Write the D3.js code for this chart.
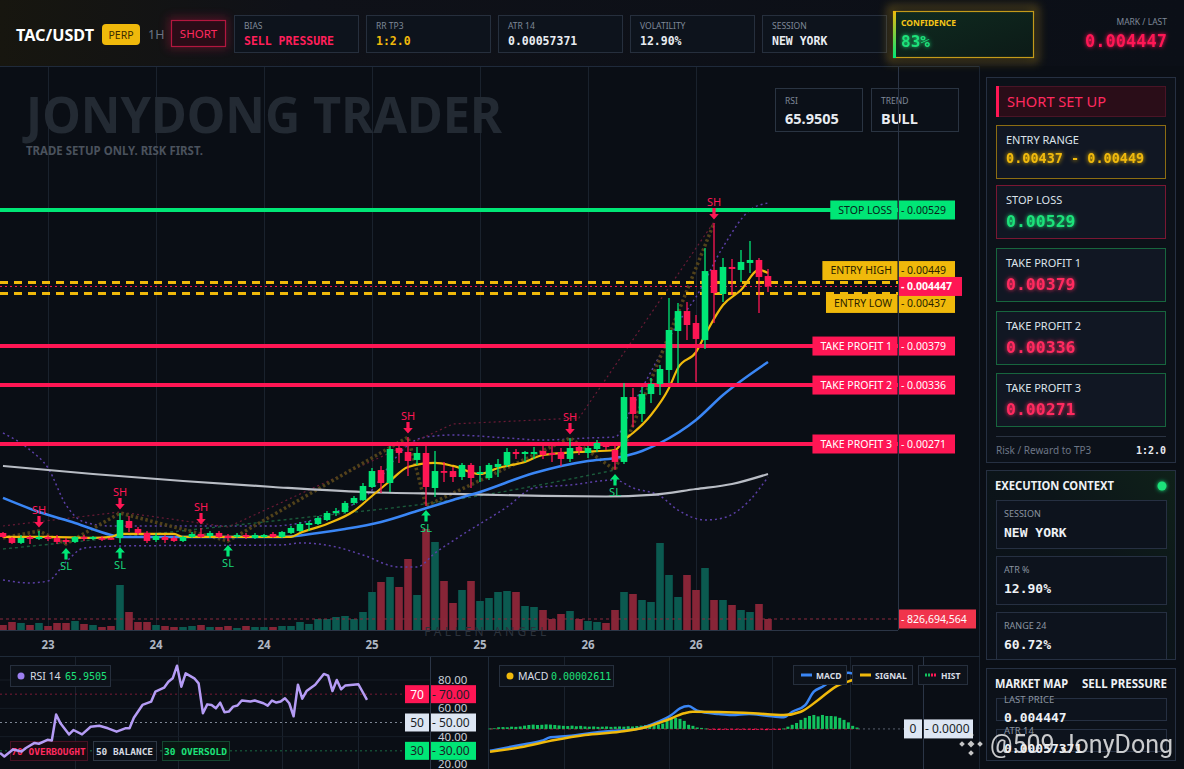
<!DOCTYPE html>
<html>
<head>
<meta charset="utf-8">
<title>TAC/USDT</title>
<script src="https://cdn.jsdelivr.net/npm/d3@7/dist/d3.min.js"></script>
<style>
html,body{margin:0;padding:0;background:#0a0e15;width:1184px;height:769px;overflow:hidden}
svg{display:block}
</style>
</head>
<body>
<svg id="chart" width="1184" height="769" viewBox="0 0 1184 769"></svg>
<script>
// ================= DATA =================
const open = [0.001729,0.001674,0.001619,0.001685,0.001663,0.001685,0.001674,0.001652,0.001630,0.001685,
0.001674,0.001674,0.001674,0.001674,0.001861,0.001773,0.001729,0.001652,0.001685,0.001674,
0.001641,0.001685,0.001718,0.001696,0.001729,0.001696,0.001696,0.001707,0.001674,0.001685,
0.001718,0.001685,0.001729,0.001751,0.001817,0.001828,0.001872,0.001949,0.001960,0.002060,
0.002093,0.002236,0.002423,0.002280,0.002666,0.002622,0.002534,0.002611,0.002225,0.002412,
0.002412,0.002346,0.002479,0.002379,0.002335,0.002457,0.002479,0.002622,0.002600,0.002600,
0.002633,0.002611,0.002622,0.002545,0.002677,0.002611,0.002655,0.002699,0.002644,0.002512,
0.003228,0.003041,0.003261,0.003372,0.003526,0.003956,0.004176,0.004044,0.003857,0.004629,
0.004364,0.004662,0.004629,0.004706,0.004739,0.004562];
const high = [0.001740,0.001685,0.001707,0.001707,0.001751,0.001707,0.001707,0.001674,0.001696,0.001707,
0.001696,0.001696,0.001685,0.001949,0.001916,0.001795,0.001751,0.001729,0.001707,0.001696,
0.001696,0.001740,0.001784,0.001751,0.001751,0.001718,0.001729,0.001729,0.001729,0.001718,
0.001740,0.001751,0.001806,0.001850,0.001861,0.001916,0.001971,0.002005,0.002082,0.002137,
0.002280,0.002446,0.002468,0.002688,0.002688,0.002787,0.002677,0.002688,0.002633,0.002512,
0.002457,0.002501,0.002501,0.002468,0.002501,0.002545,0.002666,0.002655,0.002633,0.002677,
0.002699,0.002688,0.002666,0.002776,0.002721,0.002688,0.002754,0.002732,0.002699,0.003383,
0.003328,0.003339,0.003438,0.003581,0.004320,0.004265,0.004276,0.004132,0.004871,0.005147,
0.004761,0.004750,0.004849,0.004948,0.004761,0.004640];
const low = [0.001674,0.001608,0.001608,0.001608,0.001652,0.001641,0.001608,0.001608,0.001619,0.001641,
0.001652,0.001641,0.001652,0.001619,0.001740,0.001707,0.001619,0.001630,0.001619,0.001630,
0.001630,0.001674,0.001674,0.001674,0.001674,0.001641,0.001674,0.001663,0.001663,0.001674,
0.001674,0.001674,0.001718,0.001740,0.001751,0.001817,0.001861,0.001916,0.001949,0.002038,
0.002082,0.002225,0.002170,0.002181,0.002501,0.002357,0.002479,0.002027,0.002126,0.002291,
0.002291,0.002313,0.002225,0.002291,0.002313,0.002346,0.002457,0.002545,0.002512,0.002545,
0.002545,0.002512,0.002468,0.002512,0.002589,0.002556,0.002622,0.002644,0.002423,0.002490,
0.002898,0.002953,0.003162,0.003250,0.003383,0.003383,0.003857,0.003394,0.003758,0.004044,
0.004276,0.004353,0.004496,0.004595,0.004154,0.004386];
const close = [0.001685,0.001619,0.001674,0.001663,0.001685,0.001663,0.001630,0.001630,0.001685,0.001669,
0.001685,0.001658,0.001663,0.001872,0.001784,0.001729,0.001641,0.001696,0.001652,0.001641,
0.001685,0.001718,0.001685,0.001729,0.001685,0.001674,0.001707,0.001685,0.001707,0.001707,
0.001685,0.001740,0.001784,0.001828,0.001839,0.001894,0.001949,0.001971,0.002060,0.002115,
0.002247,0.002412,0.002280,0.002655,0.002611,0.002523,0.002611,0.002236,0.002412,0.002401,
0.002346,0.002479,0.002335,0.002401,0.002479,0.002490,0.002622,0.002600,0.002622,0.002622,
0.002589,0.002589,0.002545,0.002666,0.002633,0.002666,0.002721,0.002677,0.002512,0.003228,
0.003041,0.003261,0.003372,0.003537,0.003967,0.004176,0.004022,0.003868,0.004617,0.004375,
0.004662,0.004640,0.004717,0.004739,0.004551,0.004447];
const volume = [376e6,601e6,526e6,376e6,526e6,301e6,526e6,526e6,676e6,451e6,
376e6,225e6,301e6,3382e6,1353e6,601e6,601e6,376e6,301e6,225e6,
225e6,301e6,376e6,225e6,225e6,301e6,150e6,301e6,225e6,225e6,
225e6,301e6,301e6,601e6,451e6,827e6,827e6,977e6,1052e6,827e6,
1353e6,2856e6,3607e6,3983e6,3231e6,5336e6,2630e6,7590e6,6613e6,3682e6,
2029e6,3006e6,3682e6,2179e6,2405e6,2856e6,2931e6,2856e6,1804e6,1728e6,
1503e6,827e6,1202e6,1428e6,827e6,676e6,601e6,526e6,1503e6,2856e6,
2705e6,2255e6,2104e6,6538e6,4133e6,2480e6,4133e6,3006e6,4659e6,2255e6,
2255e6,1879e6,1503e6,1353e6,1954e6,826694564];

const timeTickIndex = [5,17,29,41,53,65,77];
const timeTickLabels = ["23","24","24","25","25","26","26"];

// overlay lines (candle index, price)
const emaFastIdx = [0,5,10,12,13,19,20,32,33,36,39,41,43,45,48,50,53,55,58,60,64,68,69,70,72,74,75,77,78,80,82,84,85];
const emaFast = [0.001685,0.001685,0.001674,0.001685,0.001718,0.001718,0.001685,0.001685,0.001729,0.001828,0.001971,0.002137,0.002302,0.002457,0.002501,0.002468,0.002379,0.002446,0.002512,0.002589,0.002622,0.002644,0.002754,0.002831,0.003030,0.003328,0.003548,0.003724,0.003912,0.004243,0.004408,0.004629,0.004595];
const emaMidIdx = [0,4,8,12,13,31,35,38,42,46,50,53,59,65,68,71,73,77,80,85];
const emaMid = [0.002115,0.001960,0.001839,0.001707,0.001685,0.001685,0.001729,0.001773,0.001850,0.001971,0.002093,0.002181,0.002390,0.002523,0.002556,0.002633,0.002721,0.002975,0.003250,0.003614];
const emaSlowIdx = [0,10,20,30,40,50,60,67,72,77,81,85];
const emaSlow = [0.002468,0.002379,0.002302,0.002236,0.002181,0.002159,0.002137,0.002131,0.002148,0.002214,0.002269,0.002379];
const bandUpIdx = [0,3,5,7,9,12,30,33,37,41,43,45,47,50,56,60,65,68,70,73,75,77,80,83,85];
const bandUp = [0.002831,0.002644,0.002446,0.002038,0.001850,0.001806,0.001806,0.001839,0.001960,0.002203,0.002479,0.002699,0.002787,0.002809,0.002776,0.002754,0.002776,0.002787,0.003140,0.003691,0.004044,0.004331,0.004882,0.005290,0.005367];
const bandLowIdx = [0,3,5,7,9,13,31,33,37,40,44,46,48,51,56,59,63,68,70,73,75,78,80,83,85];
const bandLow = [0.001211,0.001178,0.001200,0.001409,0.001563,0.001586,0.001597,0.001619,0.001575,0.001486,0.001354,0.001354,0.001508,0.001707,0.002016,0.002225,0.002258,0.002313,0.002225,0.002137,0.001982,0.001872,0.001894,0.002093,0.002346];
const supportIdx = [0,33,50,68];
const support = [0.001553,0.001894,0.002093,0.002423];
const resistIdx = [0,13,25,50,64,79];
const resist = [0.001806,0.001960,0.001795,0.002931,0.002997,0.005158];

const swingHighIdx = [4,13,22,45,63,79];
const swingLowIdx = [7,13,25,47,68];
const zigzagIdx = [0,4,7,13,25,45,47,63,68,79];
const zigzagType = ["L","H","L","H","L","H","L","H","L","H"];

const levelNames = ["STOP LOSS","ENTRY HIGH","ENTRY LOW","TAKE PROFIT 1","TAKE PROFIT 2","TAKE PROFIT 3"];
const levelPrices = [0.00529,0.00449,0.00437,0.00379,0.00336,0.00271];
const levelLabels = ["0.00529","0.00449","0.00437","0.00379","0.00336","0.00271"];
const markPrice = 0.004447;
const lastVolume = 826694564;

// RSI (candle index, value)
const rsiIdx = [0,1,3,5,6,8,9,11,12,13,14,16,17,19,21,23,25,27,29,30,31,33,35,36,38,39,40,41,42,43,45,46,47,48,49,50,51,52,53,54,55,56,58,59,61,62,63,64,65,66,67,68,69,70,71,73,75,76,77,78,79,80,83,85];
const rsiVal = [28.5,26,31,29.5,32,35.6,35,37.8,37.3,55.7,49.4,41.6,44.7,41.6,47,47.7,45.9,43.5,45.9,45.9,53.4,62.4,64.7,71.8,74.6,78.8,81.2,90.1,75.3,84.7,81.2,77.6,56.5,62.8,62.4,60.0,64,57.2,57.7,61.2,62,65.5,64.8,65.5,63.6,61.9,65.5,64.1,64.8,67.1,63.6,54.4,76.7,66.8,72.2,76.7,84.3,83.1,72.2,80.0,73.4,76.2,77,65.9505];
const rsiTicks = [80,60,40,20];
const rsiLevels = [70,50,30];

// MACD
const macdIdx = [0,7,12,14,18,26,34,39,42,44,46,48,53,56,60,64,68,70,73,75,77,80,83,85];
const macdVal = [-1.061e-5,-7.83e-6,-5.74e-6,-4.09e-6,-3.45e-6,-1.36e-6,0,3.5e-6,6.76e-6,1.0e-5,1.11e-5,8.86e-6,7.25e-6,6.76e-6,7.25e-6,6.42e-6,5.64e-6,8.37e-6,1.163e-5,1.81e-5,2.05e-5,2.46e-5,2.73e-5,2.611e-5];
const signalIdx = [0,7,15,22,30,36,41,45,47,53,61,68,72,76,80,84,85];
const signalVal = [-1.11e-5,-8.95e-6,-5.40e-6,-2.97e-6,-1.36e-6,7.8e-7,4.33e-6,7.59e-6,8.37e-6,8.22e-6,7.59e-6,6.76e-6,8.37e-6,1.406e-5,2.05e-5,2.38e-5,2.46e-5];
const histVal = [0.2e-6,0.3e-6,0.8e-6,0.9e-6,0.8e-6,1.1e-6,1.0e-6,1.2e-6,1.6e-6,1.9e-6,
2.1e-6,1.9e-6,2.0e-6,2.2e-6,2.1e-6,1.9e-6,1.7e-6,1.5e-6,1.4e-6,1.6e-6,
1.3e-6,1.5e-6,1.2e-6,1.1e-6,1.2e-6,1.0e-6,1.1e-6,1.2e-6,1.0e-6,1.1e-6,
1.2e-6,1.1e-6,1.3e-6,1.2e-6,1.4e-6,1.6e-6,1.9e-6,2.1e-6,2.4e-6,2.2e-6,
2.6e-6,4.4e-6,4.9e-6,5.4e-6,4.9e-6,3.9e-6,2.0e-6,1.5e-6,0.7e-6,0.5e-6,
0.2e-6,-0.3e-6,-0.4e-6,-0.5e-6,-0.4e-6,-0.3e-6,-0.2e-6,-0.4e-6,-0.3e-6,-0.2e-6,
-0.3e-6,-0.5e-6,-0.4e-6,-0.3e-6,-0.6e-6,-0.4e-6,-0.3e-6,-0.5e-6,0.2e-6,1.1e-6,
2.0e-6,2.9e-6,4.4e-6,5.4e-6,6.3e-6,6.8e-6,6.1e-6,6.8e-6,6.3e-6,6.3e-6,
6.1e-6,5.4e-6,4.4e-6,3.2e-6,1.5e-6,0.7e-6];

// text content
const headerLabels = ["BIAS","RR TP3","ATR 14","VOLATILITY","SESSION"];
const headerValues = ["SELL PRESSURE","1:2.0","0.00057371","12.90%","NEW YORK"];
const setupLabels = ["ENTRY RANGE","STOP LOSS","TAKE PROFIT 1","TAKE PROFIT 2","TAKE PROFIT 3"];
const setupValues = ["0.00437 - 0.00449","0.00529","0.00379","0.00336","0.00271"];
const contextLabels = ["SESSION","ATR %","RANGE 24"];
const contextValues = ["NEW YORK","12.90%","60.72%"];
const mapLabels = ["LAST PRICE","ATR 14"];
const mapValues = ["0.004447","0.00057371"];

// ================= DRAW =================
(function(){
const SANS = "'Noto Sans','Open Sans',sans-serif";
const MONO = "'DejaVu Sans Mono','Liberation Mono',monospace";
const GREEN = "#00e676", RED = "#ff1654", GOLD = "#f0b90b";
const svg = d3.select("#chart");
const defs = svg.append("defs");

function lg(id, x1,y1,x2,y2, stops){
  const g = defs.append("linearGradient").attr("id",id).attr("x1",x1).attr("y1",y1).attr("x2",x2).attr("y2",y2);
  stops.forEach(s=>g.append("stop").attr("offset",s[0]).attr("stop-color",s[1]).attr("stop-opacity",s[2]==null?1:s[2]));
}
lg("topbarGrad",0,0,1,0,[[0,"#17160f"],[0.25,"#0f1118"],[1,"#0b0f17"]]);
lg("confFill",0,0,1,1,[[0,"#0f2b20"],[1,"#0c1a17"]]);
lg("confBar",0,0,0,1,[[0,GOLD],[1,GREEN]]);
lg("execFill",0,1,1,0,[[0,"#0b1019"],[0.6,"#0c1519"],[1,"#0f2119"]]);
function glow(id,std){
  const f = defs.append("filter").attr("id",id).attr("x","-30%").attr("y","-60%").attr("width","160%").attr("height","220%");
  f.append("feGaussianBlur").attr("in","SourceGraphic").attr("stdDeviation",std).attr("result","b");
  const m = f.append("feMerge"); m.append("feMergeNode").attr("in","b"); m.append("feMergeNode").attr("in","SourceGraphic");
}
glow("glow",2.2);
defs.append("filter").attr("id","soft").attr("x","-20%").attr("y","-40%").attr("width","140%").attr("height","180%")
  .append("feGaussianBlur").attr("stdDeviation",5);

function T(p,x,y,s,o={}){
  const t = p.append("text").attr("x",x).attr("y",y).text(s)
    .attr("font-family",o.ff||SANS).attr("font-size",o.fs||11).attr("fill",o.fill||"#e8ecf1");
  if(o.fw) t.attr("font-weight",o.fw);
  if(o.anchor) t.attr("text-anchor",o.anchor);
  if(o.ls!=null) t.attr("letter-spacing",o.ls);
  if(o.tl) t.attr("textLength",o.tl).attr("lengthAdjust","spacingAndGlyphs");
  if(o.filter) t.attr("filter",o.filter);
  if(o.op!=null) t.attr("opacity",o.op);
  return t;
}
function R(p,x,y,w,h,fill,stroke,o={}){
  const r = p.append("rect").attr("x",x).attr("y",y).attr("width",w).attr("height",h).attr("fill",fill||"none");
  if(stroke) r.attr("stroke",stroke).attr("stroke-width",o.sw||1);
  if(o.rx) r.attr("rx",o.rx);
  if(o.op!=null) r.attr("opacity",o.op);
  return r;
}
function L(p,x1,y1,x2,y2,stroke,w,dash){
  const l = p.append("line").attr("x1",x1).attr("y1",y1).attr("x2",x2).attr("y2",y2).attr("stroke",stroke).attr("stroke-width",w||1);
  if(dash) l.attr("stroke-dasharray",dash);
  return l;
}

R(svg,0,0,1184,769,"#0a0e15");

// ---------- TOP BAR ----------
const bar = svg.append("g");
R(bar,0,0,1184,66,"url(#topbarGrad)");
L(bar,0,66.5,980,66.5,"#1f2a3b",1);
T(bar,16,41,"TAC/USDT",{fs:16,fw:"bold",fill:"#ffffff",tl:78});
R(bar,102,24,38,21,GOLD,null,{rx:4});
T(bar,121,38.5,"PERP",{fs:10.5,fill:"#3b2c00",anchor:"middle"});
T(bar,148,39,"1H",{fs:12.5,fill:"#6b7685"});
R(bar,168,17,60,32,"#b3173f",null,{op:0.35}).attr("filter","url(#soft)");
R(bar,171.5,20.5,54,26,"#2a0c17","#b3173f",{sw:1.2});
T(bar,198.5,38,"SHORT",{fs:11.5,fill:"#ff2a5f",anchor:"middle"});
headerLabels.forEach((lab,k)=>{
  const x0 = 234 + k*132;
  R(bar,x0+0.5,15.5,124,37,"#0d131c","#262f3d");
  T(bar,x0+10,29,lab,{fs:8.5,fill:"#7f8998"});
  T(bar,x0+10,45,headerValues[k],{fs:11.5,fw:"bold",ff:MONO,fill:["#ff1f5a",GOLD,"#e8ecf1","#e8ecf1","#e8ecf1"][k]});
});
R(bar,890,8,146,52,"none","#c49a1a",{sw:4,op:0.55}).attr("filter","url(#soft)");
R(bar,893.5,11.5,140,46,"url(#confFill)","#c49a1a",{sw:1.2});
R(bar,893,11,3,47,"url(#confBar)");
T(bar,901,26,"CONFIDENCE",{fs:8.5,fw:"bold",fill:"#f5c518"});
T(bar,901,47,"83%",{fs:16,fw:"bold",ff:MONO,fill:"#1de27a",filter:"url(#glow)"});
T(bar,1167,25,"MARK / LAST",{fs:8.5,fill:"#7f8998",anchor:"end"});
T(bar,1167,47,"0.004447",{fs:17,fw:"bold",ff:MONO,fill:RED,anchor:"end",filter:"url(#glow)"});

// ---------- MAIN CHART ----------
const PLOT_R = 898, PLOT_T = 67, PLOT_B = 630;
const x = d3.scaleLinear().domain([0,85]).range([3,768]);
const y = d3.scaleLinear().domain([0.00271,0.00529]).range([444,210]);
const vy = d3.scaleLinear().domain([0,7.59e9]).range([PLOT_B,529]);

defs.append("clipPath").attr("id","plotClip").append("rect").attr("x",0).attr("y",PLOT_T).attr("width",PLOT_R).attr("height",PLOT_B-PLOT_T);
const main = svg.append("g");
const plot = main.append("g").attr("clip-path","url(#plotClip)");

timeTickIndex.forEach(i=>L(plot,Math.round(x(i))+0.5,PLOT_T,Math.round(x(i))+0.5,PLOT_B,"#1a222d",1));

T(plot,26,132.5,"JONYDONG TRADER",{fs:50,fw:"bold",fill:"#232a33",tl:476});
T(plot,26,155,"TRADE SETUP ONLY. RISK FIRST.",{fs:11.5,fw:"bold",fill:"#4a525d",tl:177});

const idxAll = d3.range(open.length);
const isUp = i => close[i] >= open[i];
plot.selectAll("rect.vol").data(idxAll).join("rect").attr("class","vol")
  .attr("x",i=>x(i)-3.8).attr("width",7.6)
  .attr("y",i=>vy(volume[i])).attr("height",i=>PLOT_B-vy(volume[i]))
  .attr("fill",i=>isUp(i)?"#0b5a50":"#872537");
L(plot,0,vy(lastVolume),PLOT_R,vy(lastVolume),"#8a2a3e",1,"3,3");

function path(p, idx, vals, stroke, w, dash, curve, op){
  const gen = d3.line().x((d,k)=>x(idx[k])).y(d=>y(d)).curve(curve||d3.curveMonotoneX);
  const pa = p.append("path").attr("d",gen(vals)).attr("fill","none").attr("stroke",stroke).attr("stroke-width",w)
    .attr("stroke-linejoin","round");
  if(dash) pa.attr("stroke-dasharray",dash);
  if(op!=null) pa.attr("opacity",op);
  return pa;
}
path(plot,bandUpIdx,bandUp,"#5b3fa6",1.5,"2,3");
path(plot,bandLowIdx,bandLow,"#5b3fa6",1.5,"2,3");
path(plot,supportIdx,support,"#1b5a3b",1.4,"3,3");
path(plot,resistIdx,resist,"#6a1b36",1.2,"2,3",d3.curveLinear);
const zzVals = zigzagIdx.map((i,k)=>zigzagType[k]==="H"?high[i]:low[i]);
path(plot,zigzagIdx,zzVals,"#54451a",3.5,"2.5,2.5",d3.curveLinear,0.95);
path(plot,emaSlowIdx,emaSlow,"#b9bdc5",2.2);
path(plot,emaMidIdx,emaMid,"#3a86f5",2.5);
path(plot,emaFastIdx,emaFast,GOLD,2.2);

[0,3,4,5].forEach(k=>L(plot,0,y(levelPrices[k]),PLOT_R,y(levelPrices[k]),k===0?GREEN:RED,4));
[1,2].forEach(k=>L(plot,0,y(levelPrices[k]),PLOT_R,y(levelPrices[k]),GOLD,3,"8,6"));
L(plot,0,y(markPrice),PLOT_R,y(markPrice),RED,1,"2,3");

plot.selectAll("line.wick").data(idxAll).join("line").attr("class","wick")
  .attr("x1",i=>x(i)).attr("x2",i=>x(i)).attr("y1",i=>y(high[i])).attr("y2",i=>y(low[i]))
  .attr("stroke",i=>isUp(i)?GREEN:RED).attr("stroke-width",1.3);
plot.selectAll("rect.body").data(idxAll).join("rect").attr("class","body")
  .attr("x",i=>x(i)-3.3).attr("width",6.6)
  .attr("y",i=>Math.min(y(open[i]),y(close[i])))
  .attr("height",i=>Math.max(1.8,Math.abs(y(open[i])-y(close[i]))))
  .attr("fill",i=>isUp(i)?GREEN:RED);

swingHighIdx.forEach(i=>{
  const cx = x(i), hy = y(high[i]);
  plot.append("path").attr("d",`M${cx-1.6},${hy-15}h3.2v6h3.2l-4.8,5.5l-4.8,-5.5h3.2z`).attr("fill",RED);
  T(plot,cx,hy-17,"SH",{fs:11,fill:RED,anchor:"middle"});
});
swingLowIdx.forEach(i=>{
  const cx = x(i), ly = y(low[i]);
  plot.append("path").attr("d",`M${cx},${ly+4}l4.8,5.5h-3.2v6h-3.2v-6h-3.2z`).attr("fill",GREEN);
  T(plot,cx,ly+26,"SL",{fs:11,fill:"#19d77a",anchor:"middle"});
});

[["RSI","65.9505",775],["TREND","BULL",871]].forEach(b=>{
  R(main,b[2]+0.5,88.5,87,43,"#0b1018","#2a3442");
  T(main,b[2]+10,104,b[0],{fs:8.5,fill:"#7f8998"});
  T(main,b[2]+10,124,b[1],{fs:14.5,fw:"bold",fill:"#e8ecf1"});
});

T(main,487,636,"FALLEN ANGEL",{fs:12,fill:"#2c323b",anchor:"middle",ls:3.5});
L(main,PLOT_R+0.5,PLOT_T,PLOT_R+0.5,PLOT_B,"#2b3546",1);
L(main,0,PLOT_B+0.5,PLOT_R,PLOT_B+0.5,"#2b3546",1);
timeTickIndex.forEach((i,k)=>T(main,x(i),649,timeTickLabels[k],{fs:11.5,fw:"bold",fill:"#aeb6c2",anchor:"middle"}));

function tag(yc,leftText,rightText,fill,textFill,rightW,bold){
  const g = main.append("g");
  const h = 19;
  if(leftText){
    const r = R(g,0,yc-h/2,0,h,fill);
    const t = T(g,892,yc+3.8,leftText,{fs:10.5,fill:textFill,anchor:"end"});
    const w = t.node().getComputedTextLength();
    r.attr("x",892-w-8).attr("width",w+8+5.5);
  }
  R(g,PLOT_R+1,yc-h/2,rightW,h,fill);
  T(g,PLOT_R+3,yc+3.8,"- "+rightText,{fs:10.5,fill:textFill,fw:bold?"bold":null});
}
const tagOffset = [0,-12,10,0,0,0];
levelNames.forEach((n,k)=>{
  const col = k===0?GREEN:(k<3?GOLD:RED);
  const tf = k===0?"#08231a":(k<3?"#2a1f00":"#ffffff");
  tag(y(levelPrices[k])+tagOffset[k],n,levelLabels[k],col,tf,56);
});
tag(y(markPrice),null,"0.004447",RED,"#ffffff",63,true);
tag(vy(lastVolume),null,d3.format(",")(lastVolume),"#f0344c","#ffffff",77);

// ---------- RIGHT PANEL ----------
const rp = svg.append("g");
L(rp,979.5,66,979.5,769,"#1a2330",1);
R(rp,986.5,77.5,189,385,"#0c1119","#263042");
R(rp,996.5,86.5,169,30,"#2a0d18","#4a1426");
R(rp,996,86,3,31,RED);
T(rp,1007,107,"SHORT SET UP",{fs:15,fill:"#ff2a5f",tl:99});
const setupY = [125,185,248,311,373];
const setupBorder = ["#8c6d12","#7a1733","#17663e","#17663e","#17663e"];
const setupColor = [GOLD,"#1de27a","#ff2a5f","#ff2a5f","#ff2a5f"];
setupLabels.forEach((lab,k)=>{
  const y0 = setupY[k];
  R(rp,996.5,y0+0.5,169,53,"#111723",setupBorder[k]);
  T(rp,1006,y0+19,lab,{fs:11,fill:"#dde3ea"});
  T(rp,1006,y0+(k===0?38:42),setupValues[k],{fs:k===0?13.5:16.5,fw:"bold",ff:MONO,fill:setupColor[k],filter:"url(#glow)"});
});
L(rp,996,436.5,1166,436.5,"#2a3342",1);
T(rp,996,454,"Risk / Reward to TP3",{fs:10,fill:"#6d7686"});
T(rp,1166,454,"1:2.0",{fs:10,fw:"bold",ff:MONO,fill:"#e6e9ee",anchor:"end"});

R(rp,986.5,470.5,189,189,"url(#execFill)","#263042");
T(rp,995,490,"EXECUTION CONTEXT",{fs:12,fw:"bold",fill:"#eef1f5",tl:119});
rp.append("circle").attr("cx",1162).attr("cy",486).attr("r",4.5).attr("fill","#1de27a").attr("filter","url(#glow)");
defs.append("clipPath").attr("id","execClip").append("rect").attr("x",986).attr("y",470).attr("width",190).attr("height",189);
const ex = rp.append("g").attr("clip-path","url(#execClip)");
contextLabels.forEach((lab,k)=>{
  const y0 = 500 + k*56;
  R(ex,996.5,y0+0.5,170,48,"#0d131d","#263042");
  T(ex,1004,y0+17,lab,{fs:9,fill:"#8a93a0"});
  T(ex,1004,y0+37,contextValues[k],{fs:13,fw:"bold",ff:MONO,fill:"#eef1f5"});
});

R(rp,986.5,668.5,189,92,"#0c1119","#263042");
T(rp,995,688,"MARKET MAP",{fs:12,fw:"bold",fill:"#eef1f5",tl:73});
T(rp,1167,688,"SELL PRESSURE",{fs:12,fw:"bold",fill:"#eef1f5",anchor:"end",tl:85});
mapLabels.forEach((lab,k)=>{
  const y0 = 698 + k*31;
  R(rp,996.5,y0+0.5,170,22,"#0d131d","#263042");
  T(rp,1004,y0+5,lab,{fs:9.5,fill:"#8a93a0"});
  T(rp,1004,y0+24,mapValues[k],{fs:13,fw:"bold",ff:MONO,fill:"#eef1f5"});
});

// ---------- RSI PANEL ----------
const bp = svg.append("g");
L(bp,0,656.5,980,656.5,"#1f2a38",1);
L(bp,488.5,657,488.5,769,"#1f2a38",1);
const rx = d3.scaleLinear().domain([0,85]).range([0,367]);
const ry = d3.scaleLinear().domain([20,80]).range([765,680]);
[75,178,282,358].forEach(v=>L(bp,v+0.5,657,v+0.5,769,"#1a222d",1));
[80,60,40].forEach(v=>L(bp,0,ry(v),430,ry(v),"#161d27",1));
L(bp,430.5,657,430.5,769,"#2b3546",1);
rsiTicks.forEach(v=>T(bp,438,Math.min(ry(v)+4,767.5),v.toFixed(2),{fs:11.5,fill:"#c8cdd5"}));
const lvlCol = {70:"#7a1a35",50:"#7d8694",30:"#1a6a45"};
rsiLevels.forEach(v=>L(bp,0,ry(v),405,ry(v),lvlCol[v],1,"2,3"));
const lvlFill = {70:RED,50:"#dde6f3",30:GREEN};
rsiLevels.forEach(v=>{
  R(bp,405,ry(v)-9,24,18,lvlFill[v]);
  R(bp,431,ry(v)-9,45,18,lvlFill[v]);
  T(bp,417,ry(v)+4.5,String(v),{fs:12,fill:v===70?"#ffffff":"#1a1f27",anchor:"middle"});
  T(bp,432,ry(v)+4.5,"- "+v.toFixed(2),{fs:12,fill:"#1a1f27"});
});
R(bp,10.5,665.5,100,21,"#0d121a","#262f3d");
bp.append("circle").attr("cx",21).attr("cy",676).attr("r",3.5).attr("fill","#9c7ff0");
T(bp,30,680,"RSI 14",{fs:10.5,fill:"#d8dde5"});
T(bp,65,680,"65.9505",{fs:10,ff:MONO,fill:"#1de27a"});
[["70 OVERBOUGHT",10,77,"#4d1326","#1a0b12","#ff2a5f"],["50 BALANCE",93,63,"#333c4a","#0d121a","#d5dae2"],["30 OVERSOLD",162,67,"#164d33","#0b1712","#1de27a"]].forEach(b=>{
  R(bp,b[1]+0.5,741.5,b[2],19,b[4],b[3],{op:0.9});
  T(bp,b[1]+b[2]/2,754.5,b[0],{fs:9.5,fw:"bold",ff:MONO,fill:b[5],anchor:"middle"});
});
const rsiLine = d3.line().x((d,k)=>rx(rsiIdx[k])).y(d=>ry(d)).curve(d3.curveLinear);
bp.append("path").attr("d",rsiLine(rsiVal)).attr("fill","none").attr("stroke","#b59cf5").attr("stroke-width",2.5).attr("stroke-linejoin","round");

// ---------- MACD PANEL ----------
const mx = d3.scaleLinear().domain([0,85]).range([490,857]);
const my = d3.scaleLinear().domain([-0.0000195,0.0000350]).range([769,657]);
[564,669,772,850].forEach(v=>L(bp,v+0.5,657,v+0.5,769,"#1a222d",1));
L(bp,923.5,657,923.5,769,"#2b3546",1);
L(bp,490,my(0),858,my(0),"#b0183f",1,"3,3");
L(bp,858,my(0),904,my(0),"#5a6270",1,"2,3");
bp.selectAll("rect.hist").data(idxAll).join("rect").attr("class","hist")
  .attr("x",i=>mx(i)-1.5).attr("width",3)
  .attr("y",i=>Math.min(my(histVal[i]),my(0))).attr("height",i=>Math.max(0.8,Math.abs(my(histVal[i])-my(0))))
  .attr("fill",i=>histVal[i]>=0?"#12c25e":RED);
const macdLine = d3.line().x((d,k)=>mx(macdIdx[k])).y(d=>my(d)).curve(d3.curveMonotoneX);
const sigLine = d3.line().x((d,k)=>mx(signalIdx[k])).y(d=>my(d)).curve(d3.curveMonotoneX);
bp.append("path").attr("d",macdLine(macdVal)).attr("fill","none").attr("stroke","#3a86f5").attr("stroke-width",2.5);
bp.append("path").attr("d",sigLine(signalVal)).attr("fill","none").attr("stroke",GOLD).attr("stroke-width",2.5);
R(bp,499.5,665.5,114,21,"#0d121a","#262f3d");
bp.append("circle").attr("cx",510).attr("cy",676).attr("r",3.5).attr("fill",GOLD);
T(bp,518,680,"MACD",{fs:10.5,fill:"#d8dde5"});
T(bp,551,680,"0.00002611",{fs:10,ff:MONO,fill:"#1de27a"});
[["MACD",793,53,"#3a86f5"],["SIGNAL",852,60,GOLD],["HIST",918,49,null]].forEach(b=>{
  R(bp,b[1]+0.5,665.5,b[2],19,"#0d121a","#262f3d");
  if(b[3]) L(bp,b[1]+8,675,b[1]+19,675,b[3],3);
  else { L(bp,b[1]+7,675,b[1]+13,675,"#12c25e",3,"2,1"); L(bp,b[1]+13,675,b[1]+19,675,RED,3,"2,1"); }
  T(bp,b[1]+23,678.5,b[0],{fs:8.5,fw:"bold",fill:"#d8dde5"});
});
R(bp,904,my(0)-9.5,18,19,"#dde6f3");
R(bp,924,my(0)-9.5,49,19,"#dde6f3");
T(bp,913,my(0)+4.5,"0",{fs:12,fill:"#1a1f27",anchor:"middle"});
T(bp,925,my(0)+4.5,"- 0.0000",{fs:12,fill:"#1a1f27"});

// ---------- platform watermark ----------
const wm = svg.append("g").attr("opacity",0.85);
[[0,0,5],[0,-9,4],[0,9,4],[-9,0,4],[9,0,4]].forEach(d=>{
  wm.append("rect").attr("x",-d[2]/2).attr("y",-d[2]/2).attr("width",d[2]).attr("height",d[2])
    .attr("transform",`translate(${971+d[0]},${744+d[1]}) rotate(45)`).attr("fill","#e6e6e6");
});
T(wm,990,753,"@509 JonyDong",{fs:25,ff:"Roboto,'Noto Sans',sans-serif",fill:"#ececec",tl:183});
})();
</script>
</body>
</html>
